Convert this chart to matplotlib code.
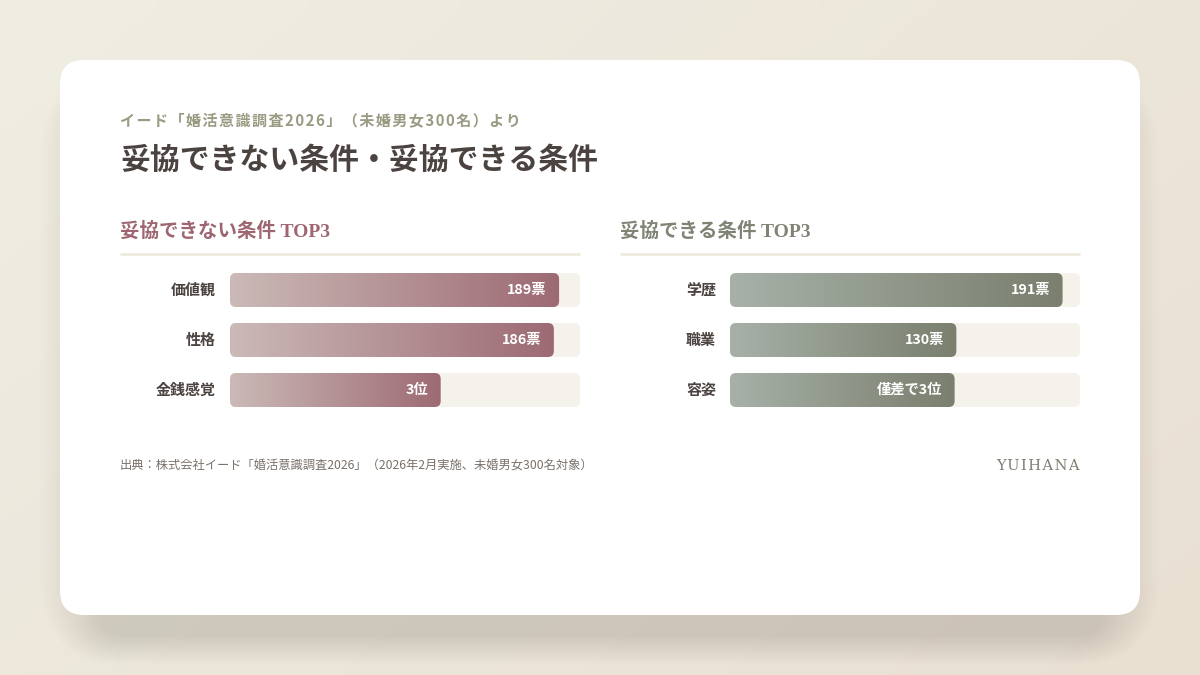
import matplotlib
matplotlib.use("Agg")
import matplotlib.pyplot as plt
import numpy as np
from matplotlib.patches import FancyBboxPatch
from matplotlib.colors import LinearSegmentedColormap

plt.rcParams['font.family'] = ['Noto Sans CJK JP', 'DejaVu Sans']

# data
subtitle = "イード「婚活意識調査2026」（未婚男女300名）より"
title = "妥協できない条件・妥協できる条件"
source = "出典：株式会社イード「婚活意識調査2026」（2026年2月実施、未婚男女300名対象）"
brand = "YUIHANA"

ng_title = "妥協できない条件 TOP3"
ng_cats = ["価値観", "性格", "金銭感覚"]
ng_vals = [189, 186, 121]          # 3rd has no count; length
ng_labels = ["189票", "186票", "3位"]

ok_title = "妥協できる条件 TOP3"
ok_cats = ["学歴", "職業", "容姿"]
ok_vals = [191, 130, 129]
ok_labels = ["191票", "130票", "僅差で3位"]

x_max = 201

W, H = 1200, 675
fig = plt.figure(figsize=(W / 100, H / 100), dpi=100)

bg = fig.add_axes([0, 0, 1, 1])
bg.set_xlim(0, W)
bg.set_ylim(H, 0)
bg.axis('off')

# background gradient
gx, gy = np.meshgrid(np.linspace(0, 1, 120), np.linspace(0, 1, 68))
t = (gx * 0.6 + gy * 0.4)
c0 = np.array([240, 237, 227]) / 255
c1 = np.array([233, 224, 210]) / 255
img = c0[None, None, :] * (1 - t[..., None]) + c1[None, None, :] * t[..., None]
bg.imshow(img, extent=(0, W, H, 0), aspect='auto', zorder=0, interpolation='bicubic')

# soft shadow under the card
for i in range(30):
    g = 2 + i * 2
    sh = FancyBboxPatch((60 + 40 - g, 60 + 40 - g * 0.5), 1080 - 80 + g * 2, 555 - 20 + g,
                        boxstyle="round,pad=0,rounding_size=%d" % (26 + g),
                        fc=(0.40, 0.34, 0.24), ec='none', alpha=0.0045, zorder=1)
    bg.add_patch(sh)

card = FancyBboxPatch((60, 60), 1080, 555, boxstyle="round,pad=0,rounding_size=24",
                      fc='white', ec='none', zorder=2)
bg.add_patch(card)

bg.text(120, 120, "\u200a".join(subtitle), fontsize=10.8, fontweight='bold', color='#9a9a82',
        va='center', ha='left', zorder=3)
bg.text(120, 160, title, fontsize=21.5, fontweight='bold', color='#4b4340',
        va='center', ha='left', zorder=3)

head_font = ['Liberation Serif', 'Noto Sans CJK JP']
bg.text(120, 231, ng_title, fontsize=14, fontweight='bold', color='#9e6670',
        va='center', ha='left', family=head_font, zorder=3)
bg.text(620, 231, ok_title, fontsize=14, fontweight='bold', color='#7f8474',
        va='center', ha='left', family=head_font, zorder=3)
bg.plot([120, 580], [254, 254], color='#efeadf', lw=2, zorder=3, solid_capstyle='butt')
bg.plot([620, 1080], [254, 254], color='#efeadf', lw=2, zorder=3, solid_capstyle='butt')

bg.text(120, 465, source, fontsize=8.85, color='#7a716a', va='center', ha='left', zorder=3)
bg.text(1080, 466, "\u200a".join(brand), fontsize=10.5, color='#7b8070', va='center',
        ha='right', family='DejaVu Serif', zorder=3)


def panel(left, cats, vals, labels, c_start, c_end):
    ax = fig.add_axes([left / W, 1 - 407 / H, 350 / W, 134 / H])
    ax.set_xlim(0, x_max)
    ax.set_ylim(2.34, -0.34)
    ax.axis('off')
    px_x = x_max / 350.0
    px_y = 1 / 50.0
    r = 6
    asp = (r * px_y) / (r * px_x)
    cmap = LinearSegmentedColormap.from_list('g', [c_start, c_end])
    grad = np.linspace(0, 1, 256)[None, :]
    for i, (cat, v, lab) in enumerate(zip(cats, vals, labels)):
        track = FancyBboxPatch((0, i - 0.34), x_max, 0.68,
                               boxstyle="round,pad=0,rounding_size=%f" % (r * px_x),
                               mutation_aspect=asp, fc='#f5f2eb', ec='none', zorder=1)
        ax.add_patch(track)
        bar = FancyBboxPatch((0, i - 0.34), v, 0.68,
                             boxstyle="round,pad=0,rounding_size=%f" % (r * px_x),
                             mutation_aspect=asp, fc='none', ec='none', zorder=2)
        ax.add_patch(bar)
        im = ax.imshow(grad, cmap=cmap, extent=(0, v, i + 0.34, i - 0.34),
                       aspect='auto', zorder=2, interpolation='bicubic')
        im.set_clip_path(bar)
        ax.annotate(lab, (v, i), xytext=(-9, 0), textcoords='offset points',
                    ha='right', va='center', fontsize=10.3, fontweight='bold',
                    color='white', zorder=3)
        ax.annotate(cat, (0, i), xytext=(-10, 0), textcoords='offset points',
                    ha='right', va='center', fontsize=10.8, fontweight='bold',
                    color='#4b4340', annotation_clip=False, zorder=3)
    ax.set_xlim(0, x_max)
    ax.set_ylim(2.34, -0.34)


panel(230, ng_cats, ng_vals, ng_labels, '#cbbab7', '#9d6a73')
panel(730, ok_cats, ok_vals, ok_labels, '#a7b1a8', '#7a7f6e')

fig.savefig("out.png", dpi=100)
